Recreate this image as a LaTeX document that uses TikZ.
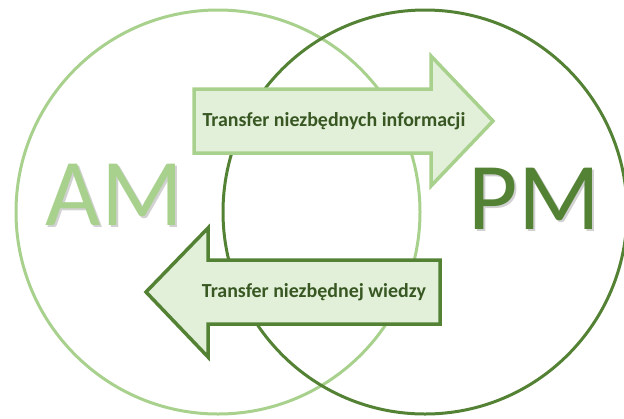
\documentclass[tikz,border=0pt]{standalone}
\usepackage{fontspec}
\setmainfont{Carlito}
\usetikzlibrary{positioning}
\definecolor{amgreen}{HTML}{A9D18E}
\definecolor{pmgreen}{HTML}{548235}
\definecolor{arrowfill}{HTML}{E2F0D9}
\definecolor{textgreen}{HTML}{385723}

\begin{document}
\begin{tikzpicture}[x=1bp, y=-1bp, line join=miter, am circle/.style={draw=amgreen, line width=3bp}, pm circle/.style={draw=pmgreen, line width=3bp}, am arrow/.style={draw=amgreen, fill=arrowfill, line width=3.5bp}, pm arrow/.style={draw=pmgreen, fill=arrowfill, line width=3.5bp}, arrow text/.style={font=\fontsize{20}{24}\selectfont\bfseries, text=textgreen}, big text/.style={font=\fontsize{96}{110}\selectfont}, shadow text/.style={big text, text=black!40, opacity=.45}]
\useasboundingbox (0,0) rectangle (624,418);
\coordinate (am) at (218,212);
\coordinate (pm) at (425,212);
\draw[am circle] (am) circle [radius=202];
\draw[pm circle] (pm) circle [radius=202];
% arrow to PM
\draw[am arrow] (194,89) -- (431,89) -- (431,56) -- (493,121) -- (431,186) -- (431,153) -- (194,153) -- cycle;
\node[arrow text](info) at (334,121){Transfer niezbędnych informacji};
% arrow to AM
\draw[pm arrow] (440,260) -- (208,260) -- (208,228) -- (146,292) -- (208,357) -- (208,324) -- (440,324) -- cycle;
\node[arrow text](wiedza) at (314,292){Transfer niezbędnej wiedzy};
\node[shadow text](amshadow) at (116.5,196.5){AM};
\node[big text, text=amgreen](AM) at (114.5,194.5){AM};
\node[shadow text](pmshadow) at (536.5,200.5){PM};
\node[big text, text=pmgreen](PM) at (534.5,198.5){PM};
\end{tikzpicture}
\end{document}
